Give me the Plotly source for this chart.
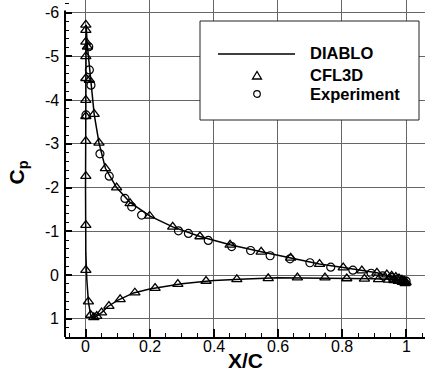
import plotly.graph_objects as go

# ---------------- data ----------------
x_ticks = [0, 0.2, 0.4, 0.6, 0.8, 1.0]
x_ticktext = ["0", "0.2", "0.4", "0.6", "0.8", "1"]
y_ticks = [-6, -5, -4, -3, -2, -1, 0, 1]
y_ticktext = ["-6", "-5", "-4", "-3", "-2", "-1", "0", "1"]

# DIABLO (continuous line: lower TE -> LE -> upper TE)
diablo_x = [1.0, 0.95, 0.9, 0.85, 0.8, 0.7, 0.6, 0.5, 0.4, 0.3, 0.2, 0.15, 0.1,
            0.07, 0.05, 0.035, 0.025, 0.016, 0.009, 0.004, 0.001, 0.0, 0.0, 0.0,
            0.0005, 0.002, 0.005, 0.01, 0.016, 0.027, 0.042, 0.062, 0.097, 0.139,
            0.2, 0.272, 0.357, 0.451, 0.548, 0.643, 0.73, 0.804, 0.862, 0.909,
            0.95, 1.0]
diablo_cp = [0.18, 0.1, 0.085, 0.08, 0.075, 0.06, 0.065, 0.09, 0.125, 0.2, 0.32,
             0.41, 0.58, 0.72, 0.86, 0.94, 0.97, 0.915, 0.61, 0.1, -0.5, -2.0,
             -4.0, -5.3, -5.7, -5.72, -5.3, -4.9, -4.45, -3.68, -3.02, -2.44,
             -2.0, -1.66, -1.35, -1.1, -0.88, -0.69, -0.53, -0.38, -0.25, -0.17,
             -0.1, -0.05, 0.03, 0.17]

# CFL3D (markers)
cfl3d_x = [0.001, 0.001, 0.001, 0.001, 0.001, 0.001, 0.001, 0.001, 0.001, 0.001, 0.001,
           0.006, 0.012, 0.027, 0.042, 0.062, 0.097, 0.139, 0.2, 0.272, 0.357, 0.451,
           0.548, 0.64, 0.73, 0.804, 0.862, 0.909, 0.94, 0.955, 0.968, 0.978, 0.987,
           0.994, 1.0,
           0.009, 0.016, 0.026, 0.035, 0.05, 0.073, 0.108, 0.154, 0.217, 0.288, 0.376,
           0.472, 0.57, 0.661, 0.747, 0.815, 0.87, 0.914, 0.945, 0.962, 0.976, 0.988,
           0.997]
cfl3d_cp = [-5.72, -5.6, -5.33, -5.0, -4.5, -4.0, -3.63, -3.06, -2.26, -1.14, -0.11,
            -5.22, -4.46, -3.68, -3.02, -2.44, -2.0, -1.64, -1.35, -1.1, -0.88, -0.69,
            -0.53, -0.39, -0.25, -0.17, -0.1, -0.05, -0.01, 0.02, 0.05, 0.08, 0.11,
            0.14, 0.17,
            0.61, 0.915, 0.967, 0.94, 0.86, 0.71, 0.556, 0.405, 0.3, 0.21, 0.137,
            0.1, 0.075, 0.06, 0.06, 0.08, 0.09, 0.1, 0.11, 0.12, 0.14, 0.16, 0.19]

# Experiment (markers)
exp_x = [0.01, 0.012, 0.017, 0.0015, 0.045, 0.074, 0.123, 0.144, 0.175, 0.29, 0.321,
         0.383, 0.456, 0.515, 0.576, 0.638, 0.70, 0.765, 0.834, 0.891, 0.927, 0.955,
         0.975, 0.99, 1.0]
exp_cp = [-5.22, -4.69, -4.34, -3.66, -2.77, -2.26, -1.75, -1.56, -1.37, -1.01, -0.95,
          -0.79, -0.65, -0.56, -0.44, -0.37, -0.28, -0.18, -0.11, -0.04, 0.02, 0.06,
          0.09, 0.12, 0.14]

series_names = ["DIABLO", "CFL3D", "Experiment"]

# ---------------- figure ----------------
W, H = 425, 378
ML, MR, MT, MB = 65, 0, 0, 41
PW, PH = W - ML - MR, H - MT - MB

fig = go.Figure()
fig.add_trace(go.Scatter(x=diablo_x, y=diablo_cp, mode="lines",
                         line=dict(color="black", width=1.5), name=series_names[0]))
fig.add_trace(go.Scatter(x=cfl3d_x, y=cfl3d_cp, mode="markers", name=series_names[1],
                         marker=dict(symbol="triangle-up-open", size=9, color="black",
                                     line=dict(width=1.3, color="black"))))
fig.add_trace(go.Scatter(x=exp_x, y=exp_cp, mode="markers", name=series_names[2],
                         marker=dict(symbol="circle-open", size=8, color="black",
                                     line=dict(width=1.2, color="black"))))

font_family = "Liberation Sans, Arial, sans-serif"

fig.update_layout(
    width=W, height=H,
    margin=dict(l=ML, r=MR, t=MT, b=MB, pad=0),
    plot_bgcolor="white", paper_bgcolor="white",
    showlegend=False,
    font=dict(family=font_family, color="black"),
)
fig.update_xaxes(
    range=[-0.064, 1.059], tickmode="array", tickvals=x_ticks, ticktext=x_ticktext,
    ticks="inside", ticklen=8, tickwidth=1.5, tickcolor="black",
    showgrid=True, gridcolor="#666666", gridwidth=1,
    showline=True, linecolor="black", linewidth=2, zeroline=False,
    automargin=False, showticklabels=False,
    minor=dict(tickmode="linear", tick0=0, dtick=0.05, ticks="inside", ticklen=4,
               tickwidth=1, tickcolor="black", showgrid=False),
)
fig.update_yaxes(
    range=[1.418, -6.289], tickmode="array", tickvals=y_ticks, ticktext=y_ticktext,
    ticks="inside", ticklen=7, tickwidth=1.5, tickcolor="black",
    showgrid=True, gridcolor="#666666", gridwidth=1,
    showline=False, zeroline=False,
    automargin=False, showticklabels=False,
    minor=dict(tickmode="linear", tick0=0, dtick=0.2, ticks="inside", ticklen=4,
               tickwidth=1, tickcolor="black", showgrid=False),
)

def px(xp):
    return (xp - ML) / PW

def py(yp):
    return (H - MB - yp) / PH

shapes = []
# left axis line (stops just above -6)
shapes.append(dict(type="line", xref="paper", yref="y", x0=0, x1=0, y0=1.418, y1=-6.05,
                   line=dict(color="black", width=2), layer="above"))
# legend box
shapes.append(dict(type="rect", xref="paper", yref="paper",
                   x0=px(200), x1=px(419), y0=py(120), y1=py(21),
                   fillcolor="white", line=dict(color="#222222", width=1), layer="above"))
# legend line sample
shapes.append(dict(type="line", xref="paper", yref="paper",
                   x0=px(218), x1=px(295), y0=py(54), y1=py(54),
                   line=dict(color="black", width=1.5), layer="above"))
# legend triangle
tx, ty = 257, 75.5
tri = "M {} {} L {} {} L {} {} Z".format(px(tx - 4.5), py(ty + 3.5), px(tx + 4.5), py(ty + 3.5),
                                         px(tx), py(ty - 4.0))
shapes.append(dict(type="path", xref="paper", yref="paper", path=tri,
                   line=dict(color="black", width=1.3), layer="above"))
# legend circle
cx, cy = 257, 94
shapes.append(dict(type="circle", xref="paper", yref="paper",
                   x0=px(cx - 3.3), x1=px(cx + 3.3), y0=py(cy + 3.3), y1=py(cy - 3.3),
                   line=dict(color="black", width=1.2), layer="above"))
fig.update_layout(shapes=shapes)

annotations = []
tick_font = dict(size=16, family=font_family, color="black")
# tick labels
for v, t in zip(x_ticks, x_ticktext):
    annotations.append(dict(xref="x", yref="paper", x=v, y=py(347), text=t,
                            showarrow=False, xanchor="center", yanchor="middle",
                            font=tick_font))
for v, t in zip(y_ticks, y_ticktext):
    annotations.append(dict(xref="paper", yref="y", x=px(61), y=v, text=t,
                            showarrow=False, xanchor="right", yanchor="middle",
                            font=tick_font))
# legend texts
for name, yy in zip(series_names, [53.5, 75, 94]):
    annotations.append(dict(xref="paper", yref="paper", x=px(308), y=py(yy),
                            text="<b>" + name + "</b>", showarrow=False,
                            xanchor="left", yanchor="middle",
                            font=dict(size=16.5, family=font_family, color="black")))
# axis titles
annotations.append(dict(xref="paper", yref="paper", x=px(245), y=py(360.5),
                        text="<b>X/C</b>", showarrow=False, xanchor="center",
                        yanchor="middle", font=dict(size=21, family=font_family, color="black")))
annotations.append(dict(xref="paper", yref="paper", x=px(17), y=py(172.5),
                        text="<b>C<sub>p</sub></b>", showarrow=False, textangle=-90,
                        xanchor="center", yanchor="middle",
                        font=dict(size=21, family=font_family, color="black")))
fig.update_layout(annotations=annotations)

fig.write_html("out.html", config={"displayModeBar": False},
               post_script="document.body.style.margin='0';document.body.style.padding='0';")
